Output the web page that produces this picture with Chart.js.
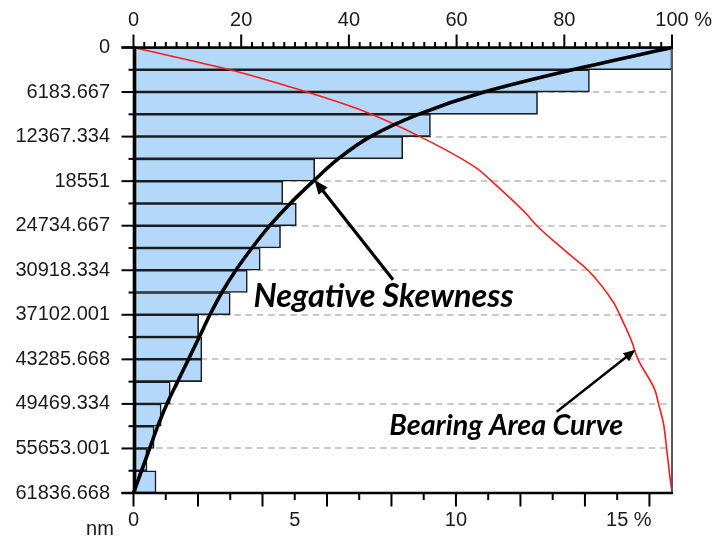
<!DOCTYPE html>
<html>
<head>
<meta charset="utf-8">
<script src="https://cdn.jsdelivr.net/npm/chart.js@4.4.0/dist/chart.umd.min.js"></script>
<style>
html,body{margin:0;padding:0;background:#ffffff;}
#wrap{width:716px;height:539px;position:relative;}
</style>
</head>
<body>
<div id="wrap"><canvas id="c" width="716" height="539"></canvas></div>
<script>
// ---------- DATA ----------
// 20 height bins (nm), each 3091.833 nm tall, listed top (0) to bottom
const binLabels = [
  '0–3091.833','3091.833–6183.667','6183.667–9275.500','9275.500–12367.334',
  '12367.334–15459.167','15459.167–18551','18551–21642.834','21642.834–24734.667',
  '24734.667–27826.501','27826.501–30918.334','30918.334–34010.167','34010.167–37102.001',
  '37102.001–40193.834','40193.834–43285.668','43285.668–46377.501','46377.501–49469.334',
  '49469.334–52561.168','52561.168–55653.001','55653.001–58744.835','58744.835–61836.668'
];
// histogram: share of points in each bin (%, bottom axis)
const binPercent = [16.7, 14.14, 12.53, 9.21, 8.35, 5.62, 4.63, 5.05, 4.56, 3.93,
                    3.53, 3.00, 2.02, 2.12, 2.12, 1.14, 0.86, 0.64, 0.42, 0.70];

// height axis tick values / labels
const heightTicks = [0, 6183.667, 12367.334, 18551, 24734.667, 30918.334,
                     37102.001, 43285.668, 49469.334, 55653.001, 61836.668];
const heightTickLabels = ['0','6183.667','12367.334','18551','24734.667','30918.334',
                          '37102.001','43285.668','49469.334','55653.001','61836.668'];
const heightMinorTicks = [3091.833, 9275.5, 15459.167, 21642.834, 27826.501,
                          34010.167, 40193.834, 46377.501, 52561.168, 58744.835];

// bottom axis (% of points)
const bottomTickLabels = [0, 5, 10, 15];
const bottomTickMarks = [0,1,2,3,4,5,6,7,8,9,10,11,12,13,14,15,16];
// top axis (cumulative %)
const topTickLabels = [0, 20, 40, 60, 80, 100];
const topTickMarks = [0,2,4,6,8,10,12,14,16,18,20,22,24,26,28,30,32,34,36,38,40,
                      42,44,46,48,50,52,54,56,58,60,62,64,66,68,70,72,74,76,78,80,
                      82,84,86,88,90,92,94,96,98,100];

// black skewness curve (top axis %) at bin boundaries
const curveHeights = [0, 3091.833, 6183.667, 9275.5, 12367.334, 15459.167, 18551,
                      21642.834, 24734.667, 27826.501, 30918.334, 34010.167, 37102.001,
                      40193.834, 43285.668, 46377.501, 49469.334, 52561.168, 55653.001,
                      58744.835, 61836.668];
const skewCurvePct = [100, 81.5, 65.1, 52.9, 44.0, 38.0, 33.4, 29.1, 25.3, 22.0, 19.0,
                      16.4, 14.2, 12.2, 10.2, 8.2, 6.2, 4.5, 3.0, 1.5, 0];

// red bearing area curve (top axis %)
const bearingHeights = [0, 3092, 6183.667, 8645, 12367.334, 16735, 18551, 22980, 24734.667,
                        29000, 30918.334, 35470, 37102.001, 40560, 43285.668, 47490,
                        49469.334, 52120, 55653.001, 59520, 61836.668];
const bearingPct = [0, 17.9, 32.2, 42.1, 53.2, 63.7, 66.5, 72.8, 74.9,
                    81.4, 84.4, 89.2, 90.3, 92.4, 93.7, 96.8,
                    97.5, 98.4, 99.0, 99.6, 100];

// annotation texts
const annotations = [
  {text: 'Negative Skewness', x: 22.3, y: 35983, width: 260,
   from: [48.2, 32237], to: [33.6, 18400], lw: 3.2, head: 14},
  {text: 'Bearing Area Curve', x: 47.5, y: 53746, width: 234,
   from: [78.6, 50557], to: [93.2, 41953], lw: 2.4, head: 12}
];

// ---------- STYLE ----------
const FONT = '"Liberation Sans", Arial, sans-serif';
const TXT = '#1b1b1b';

const axesPlugin = {
  id: 'axesPlugin',
  beforeDatasetsDraw(chart) {
    const ctx = chart.ctx, a = chart.chartArea, y = chart.scales.yNm;
    ctx.save();
    ctx.strokeStyle = '#c9c9c9';
    ctx.lineWidth = 2;
    ctx.setLineDash([6.5, 4.7]);
    heightTicks.slice(1, -1).forEach(v => {
      const py = Math.round(y.getPixelForValue(v));
      ctx.beginPath(); ctx.moveTo(a.left, py); ctx.lineTo(a.right - 2, py); ctx.stroke();
    });
    ctx.restore();
  },
  afterDatasetsDraw(chart) {
    const ctx = chart.ctx, a = chart.chartArea;
    const xb = chart.scales.x, xt = chart.scales.xTop, y = chart.scales.yNm;
    ctx.save();
    ctx.setLineDash([]);
    // right border
    ctx.strokeStyle = '#5a5a5a'; ctx.lineWidth = 2;
    ctx.beginPath(); ctx.moveTo(a.right, a.top); ctx.lineTo(a.right, a.bottom); ctx.stroke();
    ctx.strokeStyle = '#000'; ctx.lineCap = 'butt';
    // left ticks
    ctx.lineWidth = 2;
    heightTicks.forEach(v => {
      const py = y.getPixelForValue(v);
      ctx.beginPath(); ctx.moveTo(a.left - 12, py); ctx.lineTo(a.left, py); ctx.stroke();
    });
    heightMinorTicks.forEach(v => {
      const py = y.getPixelForValue(v);
      ctx.beginPath(); ctx.moveTo(a.left - 5, py); ctx.lineTo(a.left + 2, py); ctx.stroke();
    });
    // bottom ticks
    bottomTickMarks.forEach(v => {
      const px = xb.getPixelForValue(v);
      const len = (v % 2 === 0) ? 13.5 : 7;
      ctx.beginPath(); ctx.moveTo(px, a.bottom); ctx.lineTo(px, a.bottom + len); ctx.stroke();
    });
    // top ticks
    topTickMarks.forEach(v => {
      const px = xt.getPixelForValue(v);
      const len = (v % 20 === 0) ? 13 : 5.5;
      ctx.beginPath(); ctx.moveTo(px, a.top); ctx.lineTo(px, a.top - len); ctx.stroke();
    });
    // axis lines
    ctx.lineWidth = 2.6;
    ctx.beginPath(); ctx.moveTo(a.left - 12, a.top); ctx.lineTo(a.right + 1, a.top); ctx.stroke();
    ctx.beginPath(); ctx.moveTo(a.left - 12, a.bottom); ctx.lineTo(a.right + 1, a.bottom); ctx.stroke();
    ctx.lineWidth = 3.6;
    ctx.beginPath(); ctx.moveTo(a.left + 1, a.top - 1); ctx.lineTo(a.left + 1, a.bottom + 1); ctx.stroke();

    // % suffixes and unit
    ctx.font = '20px ' + FONT;
    ctx.fillStyle = TXT;
    ctx.textBaseline = 'middle';
    ctx.textAlign = 'left';
    const w15 = ctx.measureText('15').width;
    ctx.fillText(' %', xb.getPixelForValue(15) + w15 / 2, a.bottom + 15.7 + 12);
    const w100 = ctx.measureText('100').width;
    ctx.fillText(' %', xt.getPixelForValue(100) + w100 / 2, a.top - 15.5 - 12);
    ctx.textAlign = 'center';
    ctx.fillText('nm', 100, 529);

    // annotations
    annotations.forEach(n => {
      ctx.font = 'italic bold 100px Lato, "Open Sans", sans-serif';
      const w = ctx.measureText(n.text).width;
      const size = 100 * n.width / w;
      ctx.font = 'italic bold ' + size.toFixed(2) + 'px Lato, "Open Sans", sans-serif';
      ctx.fillStyle = '#000';
      ctx.textAlign = 'left';
      ctx.textBaseline = 'alphabetic';
      ctx.fillText(n.text, xt.getPixelForValue(n.x), y.getPixelForValue(n.y));
      const x1 = xt.getPixelForValue(n.from[0]), y1 = y.getPixelForValue(n.from[1]);
      const x2 = xt.getPixelForValue(n.to[0]), y2 = y.getPixelForValue(n.to[1]);
      const ang = Math.atan2(y2 - y1, x2 - x1);
      const hl = n.head, hw = n.head * 0.42;
      const bx = x2 - hl * Math.cos(ang), by = y2 - hl * Math.sin(ang);
      ctx.strokeStyle = '#000'; ctx.lineWidth = n.lw;
      ctx.beginPath(); ctx.moveTo(x1, y1); ctx.lineTo(bx + 2 * Math.cos(ang), by + 2 * Math.sin(ang)); ctx.stroke();
      ctx.beginPath();
      ctx.moveTo(x2, y2);
      ctx.lineTo(bx + hw * Math.sin(ang), by - hw * Math.cos(ang));
      ctx.lineTo(bx - hw * Math.sin(ang), by + hw * Math.cos(ang));
      ctx.closePath(); ctx.fillStyle = '#000'; ctx.fill();
    });
    ctx.restore();
  }
};

const tickFont = {family: FONT, size: 20};

new Chart(document.getElementById('c'), {
  type: 'bar',
  data: {
    labels: binLabels,
    datasets: [
      {
        type: 'line', label: 'Skewness curve',
        data: curveHeights.map((h, i) => ({x: skewCurvePct[i], y: h})),
        xAxisID: 'xTop', yAxisID: 'yNm',
        borderColor: '#000', borderWidth: 3.6, pointRadius: 0,
        cubicInterpolationMode: 'monotone', fill: false, clip: false, order: 1
      },
      {
        type: 'line', label: 'Bearing area curve',
        data: bearingHeights.map((h, i) => ({x: bearingPct[i], y: h})),
        xAxisID: 'xTop', yAxisID: 'yNm',
        borderColor: '#ff1a1a', borderWidth: 1.6, pointRadius: 0,
        cubicInterpolationMode: 'monotone', fill: false, clip: false, order: 2
      },
      {
        type: 'bar', label: 'Histogram',
        data: binPercent,
        xAxisID: 'x', yAxisID: 'yCat',
        backgroundColor: '#b4d8fa', borderColor: '#1c1c1c', borderWidth: 1.6,
        barPercentage: 1, categoryPercentage: 1, grouped: false, order: 3
      }
    ]
  },
  options: {
    indexAxis: 'y',
    responsive: false,
    animation: false,
    devicePixelRatio: 1,
    events: [],
    layout: {padding: {left: 0, right: 44, top: 0, bottom: 0}},
    plugins: {legend: {display: false}, tooltip: {enabled: false}},
    scales: {
      x: {
        type: 'linear', position: 'bottom', min: 0, max: 16.7, offset: false,
        grid: {display: false, drawTicks: false}, border: {display: false},
        afterBuildTicks: s => { s.ticks = bottomTickLabels.map(v => ({value: v})); },
        afterFit: s => { s.height = 46; },
        ticks: {font: tickFont, color: TXT, padding: 15.7, maxRotation: 0, autoSkip: false,
                callback: v => String(v)}
      },
      xTop: {
        type: 'linear', position: 'top', min: 0, max: 100, offset: false,
        grid: {display: false, drawTicks: false}, border: {display: false},
        afterBuildTicks: s => { s.ticks = topTickLabels.map(v => ({value: v})); },
        afterFit: s => { s.height = 47.5; },
        ticks: {font: tickFont, color: TXT, padding: 15.5, maxRotation: 0, autoSkip: false,
                callback: v => String(v)}
      },
      yNm: {
        type: 'linear', position: 'left', min: 0, max: 61836.668, reverse: true, offset: false,
        grid: {display: false, drawTicks: false, offset: false}, border: {display: false},
        afterBuildTicks: s => { s.ticks = heightTicks.map(v => ({value: v})); },
        afterFit: s => { s.width = 133.5; },
        ticks: {font: tickFont, color: TXT, padding: 23.5, autoSkip: false,
                callback: (v, i) => heightTickLabels[i]}
      },
      yCat: {
        type: 'category', position: 'left', display: false, offset: true,
        grid: {display: false}
      }
    }
  },
  plugins: [axesPlugin]
});
</script>
</body>
</html>
